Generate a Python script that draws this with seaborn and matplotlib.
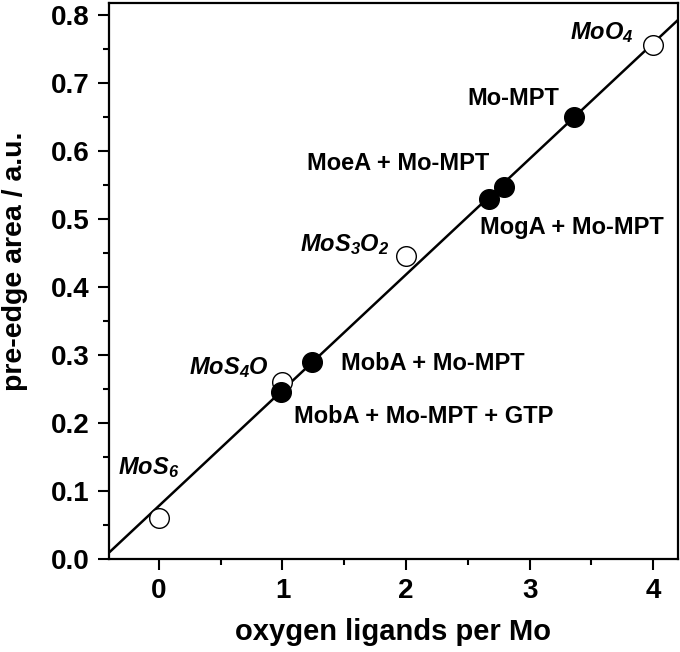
import numpy as np
import pandas as pd
import matplotlib
matplotlib.use("Agg")
import matplotlib.pyplot as plt
import seaborn as sns
from matplotlib.ticker import MultipleLocator

# reference compounds (open circles)
ref_x = [0, 1, 2, 4]
ref_y = [0.060, 0.260, 0.446, 0.756]
ref_labels = ["MoS$_6$", "MoS$_4$O", "MoS$_3$O$_2$", "MoO$_4$"]

# protein samples (filled circles)
sample_x = [0.99, 1.24, 2.67, 2.79, 3.36]
sample_y = [0.245, 0.290, 0.530, 0.548, 0.650]
sample_labels = ["MobA + Mo-MPT + GTP", "MobA + Mo-MPT", "MoeA + Mo-MPT",
                 "MogA + Mo-MPT", "Mo-MPT"]

# linear fit line endpoints
fit_x = [-0.40, 4.20]
fit_y = [0.010, 0.793]

sns.set_style("ticks")
plt.rcParams['font.family'] = ['Liberation Sans', 'DejaVu Sans']
plt.rcParams['font.weight'] = 'bold'
plt.rcParams['text.color'] = 'black'
plt.rcParams['axes.labelcolor'] = 'black'
plt.rcParams['xtick.color'] = 'black'
plt.rcParams['ytick.color'] = 'black'
plt.rcParams['axes.edgecolor'] = 'black'
plt.rcParams['mathtext.fontset'] = 'custom'
plt.rcParams['mathtext.it'] = 'Liberation Sans:italic:bold'
plt.rcParams['mathtext.rm'] = 'Liberation Sans:italic:bold'
plt.rcParams['mathtext.default'] = 'it'

fig = plt.figure(figsize=(6.8, 6.52), dpi=100)
ax = fig.add_axes([0.160, 0.1426, 0.837, 0.8524])

sns.lineplot(x=fit_x, y=fit_y, ax=ax, color="black", lw=1.8, zorder=1)
sns.scatterplot(x=ref_x, y=ref_y, ax=ax, s=200, facecolor="white",
                edgecolor="black", linewidth=1.0, zorder=3)
sns.scatterplot(x=sample_x, y=sample_y, ax=ax, s=200, color="black",
                edgecolor="black", linewidth=1.0, zorder=3)

# label placement (left edge x, center y)
ref_pos = [(-0.33, 0.135), (0.24, 0.281), (1.14, 0.462), (3.33, 0.775)]
for (tx, ty), lab in zip(ref_pos, ref_labels):
    ax.text(tx, ty, lab, fontsize=17, fontweight="bold", style="italic",
            ha="left", va="center")

sample_pos = [(1.09, 0.209), (1.47, 0.288), (1.20, 0.582), (2.60, 0.487), (2.50, 0.678)]
for (tx, ty), lab in zip(sample_pos, sample_labels):
    ax.text(tx, ty, lab, fontsize=17, fontweight="bold", ha="left", va="center")

ax.set_xlim(-0.405, 4.2)
ax.set_ylim(0.0, 0.8176)
ax.xaxis.set_major_locator(MultipleLocator(1))
ax.xaxis.set_minor_locator(MultipleLocator(0.5))
ax.yaxis.set_major_locator(MultipleLocator(0.1))
ax.yaxis.set_minor_locator(MultipleLocator(0.05))
ax.yaxis.set_major_formatter(matplotlib.ticker.FormatStrFormatter('%.1f'))

ax.tick_params(which="major", direction="out", length=8, width=1.5,
               labelsize=20, pad=6)
ax.tick_params(which="minor", direction="out", length=4.5, width=1.5)
for lab in ax.get_xticklabels() + ax.get_yticklabels():
    lab.set_fontweight("bold")
for sp in ax.spines.values():
    sp.set_visible(True)
    sp.set_linewidth(1.6)

ax.set_xlabel("oxygen ligands per Mo", fontsize=21, fontweight="bold", labelpad=10)
ax.set_ylabel("pre-edge area / a.u.", fontsize=20.5, fontweight="bold")
ax.yaxis.set_label_coords(-0.142, 0.536)

fig.savefig("out.png", dpi=100)
